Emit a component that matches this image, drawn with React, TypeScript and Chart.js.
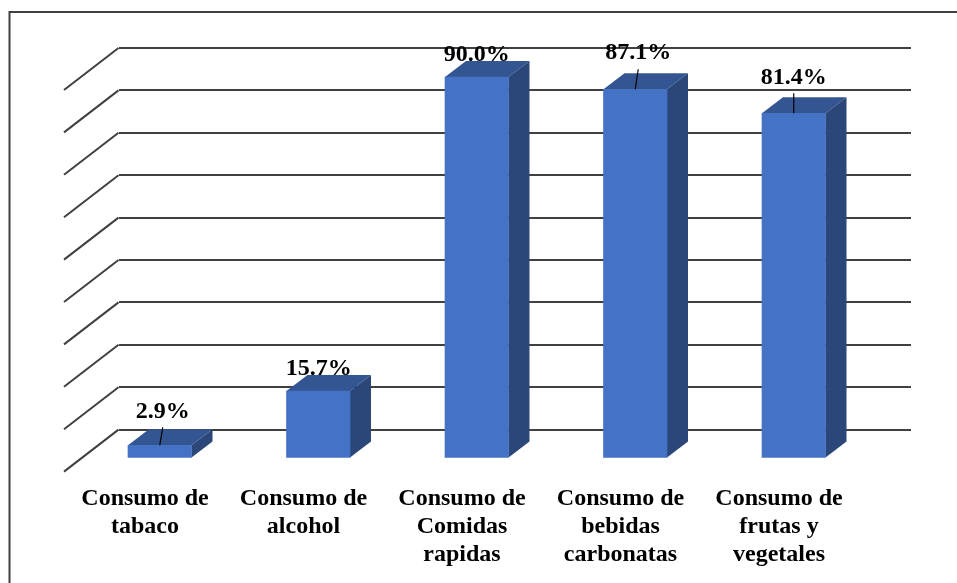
import React, { useEffect, useRef } from "react";
import { Chart, registerables } from "chart.js";

Chart.register(...registerables);

const categories: string[][] = [
  ["Consumo de", "tabaco"],
  ["Consumo de", "alcohol"],
  ["Consumo de", "Comidas", "rapidas"],
  ["Consumo de", "bebidas", "carbonatas"],
  ["Consumo de", "frutas y", "vegetales"],
];
const values = [2.9, 15.7, 90.0, 87.1, 81.4];
const wallTicks = [0, 10, 20, 30, 40, 50, 60, 70, 80, 90];

// Label placement relative to the top-centre of each bar's front face.
const labelDx = [3, 0.5, 0, 3, 0];
const labelDy = [-27, -16, -16, -30, -29];
const hasLeader = [true, false, false, true, true];
const leaderTilt = [3, 0, 0, 3, 0];
const leaderLength = [18, 0, 0, 20, 20];

const FRONT = "#4472C4";
const TOP = "#335592";
const SIDE = "#2B4779";
const LINE = "#404040";
const INK = "#000000";
const FONT = '"Liberation Serif", serif';

// Oblique projection of the chart box.
const BAR_DEPTH_X = 21;
const BAR_DEPTH_Y = 16;
const FLOOR_DEPTH_X = 54.5;
const FLOOR_DEPTH_Y = 42;
const BAR_SHIFT_X = -38;
const BAR_SHIFT_Y = 27.9;

const box3d = {
  id: "box3d",
  beforeDraw(chart: any) {
    const { ctx, chartArea, scales } = chart;
    ctx.save();
    ctx.strokeStyle = LINE;
    ctx.lineWidth = 2;
    // Outer frame: only the top and left edges fall inside the canvas.
    ctx.beginPath();
    ctx.moveTo(957, 12);
    ctx.lineTo(9.5, 12);
    ctx.lineTo(9.5, 583);
    ctx.stroke();
    // Floor-side diagonals that continue each wall line towards the viewer.
    wallTicks.forEach((v) => {
      const y = scales.y.getPixelForValue(v);
      ctx.beginPath();
      ctx.moveTo(chartArea.left, y);
      ctx.lineTo(chartArea.left - FLOOR_DEPTH_X, y + FLOOR_DEPTH_Y);
      ctx.stroke();
    });
    ctx.restore();
  },
  beforeDatasetDraw(chart: any, args: any) {
    const { ctx } = chart;
    const meta = chart.getDatasetMeta(args.index);
    ctx.save();
    ctx.translate(BAR_SHIFT_X, BAR_SHIFT_Y);
    meta.data.forEach((bar: any) => {
      const l = bar.x - bar.width / 2;
      const r = bar.x + bar.width / 2;
      ctx.fillStyle = TOP;
      ctx.beginPath();
      ctx.moveTo(l, bar.y);
      ctx.lineTo(l + BAR_DEPTH_X, bar.y - BAR_DEPTH_Y);
      ctx.lineTo(r + BAR_DEPTH_X, bar.y - BAR_DEPTH_Y);
      ctx.lineTo(r, bar.y);
      ctx.closePath();
      ctx.fill();
      ctx.fillStyle = SIDE;
      ctx.beginPath();
      ctx.moveTo(r, bar.y);
      ctx.lineTo(r + BAR_DEPTH_X, bar.y - BAR_DEPTH_Y);
      ctx.lineTo(r + BAR_DEPTH_X, bar.base - BAR_DEPTH_Y);
      ctx.lineTo(r, bar.base);
      ctx.closePath();
      ctx.fill();
    });
  },
  afterDatasetDraw(chart: any) {
    chart.ctx.restore();
  },
  afterDatasetsDraw(chart: any) {
    const { ctx } = chart;
    const meta = chart.getDatasetMeta(0);
    ctx.save();
    ctx.fillStyle = INK;
    ctx.strokeStyle = INK;
    ctx.lineWidth = 1.2;
    ctx.font = `bold 24px ${FONT}`;
    ctx.textAlign = "center";
    ctx.textBaseline = "alphabetic";
    meta.data.forEach((bar: any, i: number) => {
      const x = bar.x + BAR_SHIFT_X;
      const y = bar.y + BAR_SHIFT_Y;
      if (hasLeader[i]) {
        ctx.beginPath();
        ctx.moveTo(x, y);
        ctx.lineTo(x + leaderTilt[i], y - leaderLength[i]);
        ctx.stroke();
      }
      ctx.fillText(`${values[i].toFixed(1)}%`, x + labelDx[i], y + labelDy[i]);
    });
    ctx.restore();
  },
};

export default function App() {
  const ref = useRef<HTMLCanvasElement | null>(null);

  useEffect(() => {
    if (!ref.current) return;
    const chart = new Chart(ref.current, {
      type: "bar",
      data: {
        labels: categories as any,
        datasets: [
          {
            data: values,
            yAxisID: "bars",
            backgroundColor: FRONT,
            borderWidth: 0,
            barThickness: 63.5,
            clip: false as any,
          },
        ],
      },
      plugins: [box3d],
      options: {
        responsive: false,
        animation: false,
        devicePixelRatio: 1,
        layout: { padding: { left: 118.5, right: 46, top: 48, bottom: 0 } },
        plugins: { legend: { display: false }, tooltip: { enabled: false } },
        scales: {
          x: {
            grid: { display: false },
            border: { display: false },
            afterFit(scale: any) {
              scale.height = 153.4;
              scale.paddingLeft = 0;
              scale.paddingRight = 0;
            },
            ticks: {
              autoSkip: false,
              maxRotation: 0,
              minRotation: 0,
              padding: 47,
              labelOffset: -52.75,
              color: INK,
              font: { family: FONT, weight: "bold", size: 24, lineHeight: 1.1667 },
            },
          },
          y: {
            min: 0,
            max: 90,
            afterFit(scale: any) {
              scale.width = 0;
            },
            afterBuildTicks(scale: any) {
              scale.ticks = wallTicks.map((value) => ({ value }));
            },
            ticks: { display: false },
            border: { display: false },
            grid: { color: LINE, lineWidth: 2, drawTicks: false },
          },
          // Bars sit on a plane slightly narrower in scale than the back wall.
          bars: { display: false, min: 0, max: 90.25 },
        },
      },
    });
    return () => chart.destroy();
  }, []);

  return (
    <div style={{ position: "absolute", left: 0, top: 0, width: 957, height: 583, background: "#fff" }}>
      <canvas ref={ref} width={957} height={583} style={{ display: "block" }} />
    </div>
  );
}
